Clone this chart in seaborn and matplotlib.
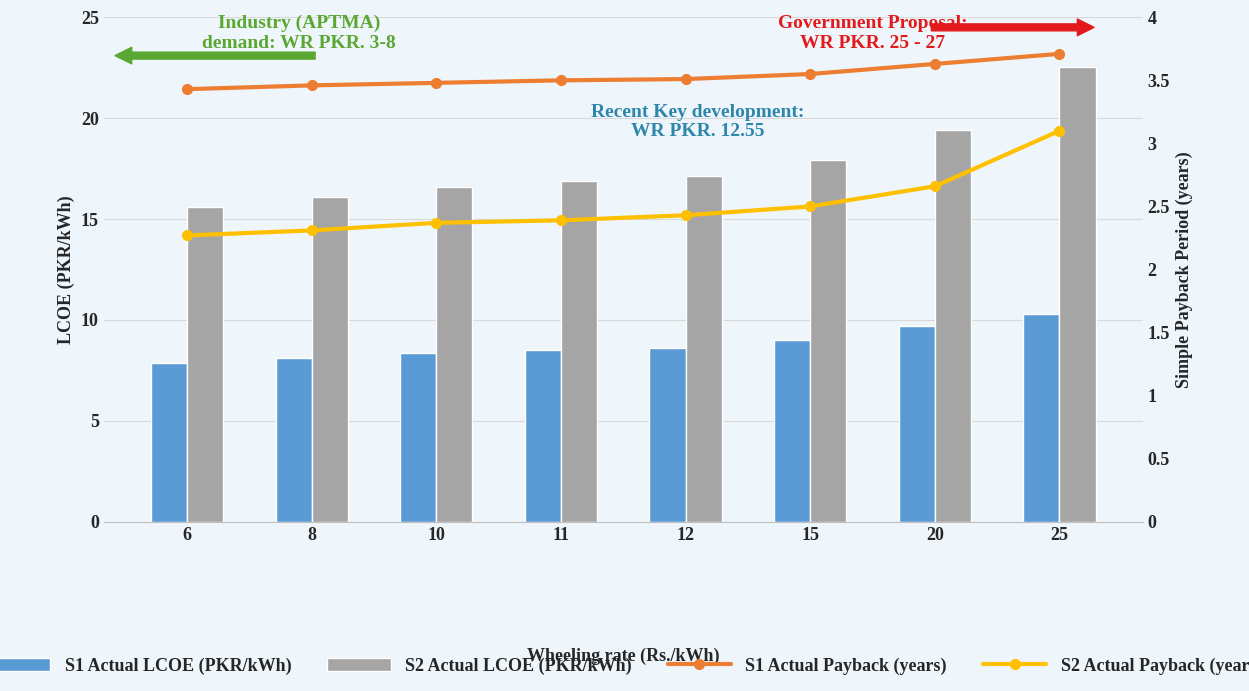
import matplotlib
matplotlib.use("Agg")
import matplotlib.pyplot as plt
import numpy as np
import pandas as pd
import seaborn as sns

rates = ["6", "8", "10", "11", "12", "15", "20", "25"]
s1_lcoe = [7.85, 8.1, 8.35, 8.5, 8.6, 9.0, 9.7, 10.3]
s2_lcoe = [15.6, 16.1, 16.6, 16.9, 17.15, 17.95, 19.4, 22.55]
s1_payback = [3.43, 3.46, 3.48, 3.50, 3.51, 3.55, 3.63, 3.71]
s2_payback = [2.27, 2.31, 2.37, 2.39, 2.43, 2.50, 2.66, 3.10]

sns.set_style("white")
plt.rcParams['font.family'] = ['Liberation Serif', 'DejaVu Serif']
plt.rcParams['font.weight'] = 'bold'

bg = "#eef6fb"
fig, ax = plt.subplots(figsize=(12.49, 6.91), dpi=100)
fig.patch.set_facecolor(bg)
ax.set_facecolor(bg)
fig.subplots_adjust(left=0.083, right=0.915, top=0.975, bottom=0.245)

df = pd.DataFrame({"rate": rates * 2,
                   "lcoe": s1_lcoe + s2_lcoe,
                   "series": ["S1 Actual LCOE (PKR/kWh)"] * 8 + ["S2 Actual LCOE (PKR/kWh)"] * 8})
sns.barplot(data=df, x="rate", y="lcoe", hue="series", palette=["#5b9bd5", "#a5a5a5"],
            width=0.58, gap=0.0, ax=ax, saturation=1)
ax.set_ylim(0, 25)
ax.set_yticks(range(0, 26, 5))
ax.set_ylabel("LCOE (PKR/kWh)", fontsize=13, fontweight="bold")
ax.set_xlabel("Wheeling rate (Rs./kWh)", fontsize=13, fontweight="bold", labelpad=75)
ax.tick_params(labelsize=13, length=0)
ax.yaxis.grid(True, color="#d9d9d9")
ax.set_axisbelow(True)
for s in ["top", "right", "left"]:
    ax.spines[s].set_visible(False)
ax.spines["bottom"].set_color("#bfbfbf")

ax2 = ax.twinx()
x = np.arange(len(rates))
ax2.plot(x, s1_payback, color="#ed7d31", lw=3, marker="o", ms=7, label="S1 Actual Payback (years)")
ax2.plot(x, s2_payback, color="#ffc000", lw=3, marker="o", ms=7, label="S2 Actual Payback (years)")
ax2.set_ylim(0, 4)
ax2.set_yticks(np.arange(0, 4.01, 0.5))
ax2.set_yticklabels(["0", "0.5", "1", "1.5", "2", "2.5", "3", "3.5", "4"])
ax2.set_ylabel("Simple Payback Period (years)", fontsize=13, fontweight="bold")
ax2.tick_params(labelsize=13, length=0)
for s in ax2.spines.values():
    s.set_visible(False)

h1, l1 = ax.get_legend_handles_labels()
h2, l2 = ax2.get_legend_handles_labels()
ax.get_legend().remove()
fig.legend(h1 + h2, l1 + l2, loc="lower center", ncol=4, frameon=False, fontsize=13,
           bbox_to_anchor=(0.5, 0.0), handlelength=3.5)

arrow = "simple,head_width=1.2,head_length=1.2,tail_width=0.5"
ax.text(0.9, 24.2, "Industry (APTMA)\ndemand: WR PKR. 3-8", color="#5aa832", fontsize=14,
        ha="center", va="center", fontweight="bold")
ax.annotate("", xy=(-0.6, 23.1), xytext=(1.05, 23.1),
            arrowprops=dict(arrowstyle=arrow, color="#5aa832"))
ax.text(5.5, 24.2, "Government Proposal:\nWR PKR. 25 - 27", color="#e31a1c", fontsize=14,
        ha="center", va="center", fontweight="bold")
ax.annotate("", xy=(7.3, 24.5), xytext=(5.95, 24.5),
            arrowprops=dict(arrowstyle=arrow, color="#e31a1c"))
ax.text(4.1, 19.8, "Recent Key development:\nWR PKR. 12.55", color="#2e86ab", fontsize=14,
        ha="center", va="center", fontweight="bold")

fig.savefig("out.png", dpi=100, facecolor=bg)
